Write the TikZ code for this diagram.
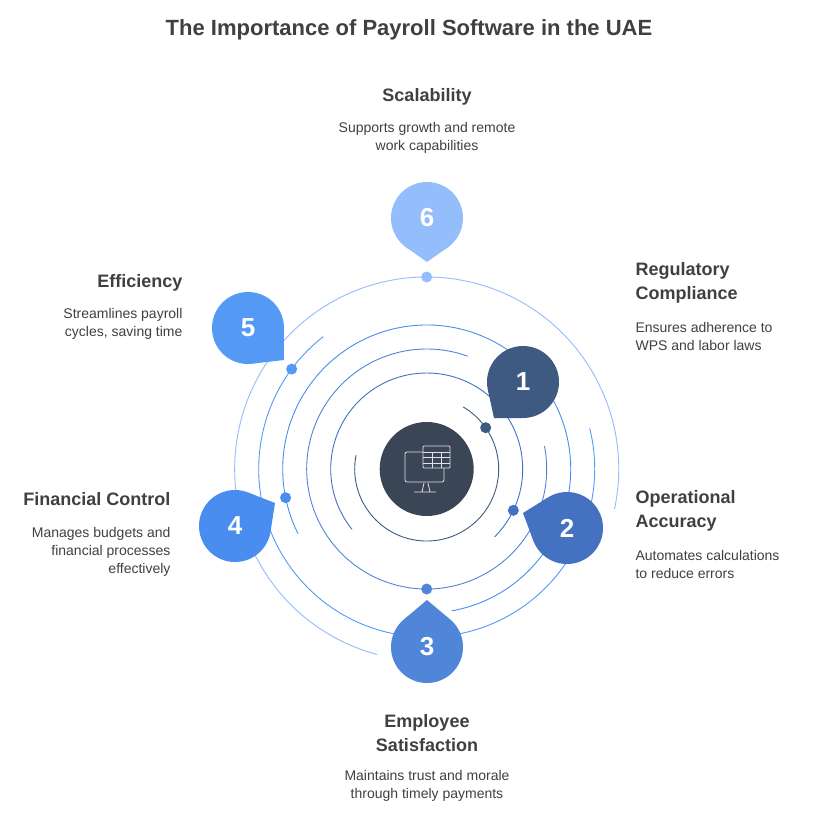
\documentclass[tikz,border=0pt]{standalone}
\usepackage{fontspec}
\setmainfont{Liberation Sans}
\usetikzlibrary{calc}
\definecolor{cA}{HTML}{3F5A80}
\definecolor{cB}{HTML}{4472C0}
\definecolor{cC}{HTML}{4F86D8}
\definecolor{cD}{HTML}{4A8DF0}
\definecolor{cE}{HTML}{5599F7}
\definecolor{cF}{HTML}{93BDFB}
\definecolor{hub}{HTML}{3A4556}
\definecolor{txt}{HTML}{404040}
\tikzset{
 ttl/.style={font=\bfseries\fontsize{22}{26}\selectfont,text=txt},
 hd/.style={font=\bfseries\fontsize{18}{24}\selectfont,text=txt,align=left},
 ds/.style={font=\fontsize{14}{18}\selectfont,text=txt},
 num/.style={font=\bfseries\fontsize{26}{26}\selectfont,text=white},
 ring/.style={line width=0.9pt},
}
\newcommand{\ringarc}[4]{\draw[ring,#4] ($(C)+(#2:#1pt)$) arc[start angle=#2,end angle=#3,radius=#1pt];}
\newcommand{\bubble}[5]{% name, center, tip, color, label
  \coordinate (#1c) at #2; \coordinate (#1t) at #3;
  \fill[#4] let \p1=($(#1t)-(#1c)$), \n1={atan2(\y1,\x1)} in
     ($(#1c)+(\n1+38:36pt)$) -- (#1t) -- ($(#1c)+(\n1-38:36pt)$) -- cycle;
  \fill[#4] (#1c) circle (36pt);
  \node[num] (#1n) at (#1c) {#5};}
\begin{document}
\begin{tikzpicture}[x=1pt,y=1pt]
\useasboundingbox (0,0) rectangle (817,-814);
\fill[white] (0,0) rectangle (817,-814);
\coordinate (C) at (426.7,-469);
\node[ttl] (title) at (409,-30) {The Importance of Payroll Software in the UAE};
% rings
\ringarc{72}{169}{419.5}{cA}
\ringarc{96}{-45}{219}{cB}
\ringarc{120}{70}{371}{cC}
\ringarc{144}{-80}{206.6}{cD}
\ringarc{168}{128}{374}{cE}
\ringarc{192}{-12}{255}{cF}
% hub
\fill[hub] (C) circle (47pt);
\begin{scope}[draw=white!85!hub,line width=0.8pt]
 \draw[rounded corners=2pt] (423,-452) -- (405,-452) -- (405,-482) -- (444,-482) -- (444,-468);
 \draw (424,-483) -- (422,-492) (428,-483) -- (430,-492) (414,-492) -- (436,-492);
 \draw[rounded corners=1pt] (423,-446) rectangle (450,-468);
 \draw (423,-452) -- (450,-452) (423,-457.5) -- (450,-457.5) (423,-463) -- (450,-463);
 \draw (432,-452) -- (432,-468) (441,-452) -- (441,-468);
\end{scope}
% bubbles and dots
\bubble{b1}{(523,-382)}{(494,-418)}{cA}{1}
\bubble{b2}{(567,-528)}{(523,-513)}{cB}{2}
\bubble{b3}{(427,-647)}{(427,-600)}{cC}{3}
\bubble{b4}{(235,-526)}{(275,-503)}{cD}{4}
\bubble{b5}{(248,-328)}{(284,-360)}{cE}{5}
\bubble{b6}{(427,-218)}{(427,-262)}{cF}{6}
\fill[cA] ($(C)+(35:72pt)$) circle (5.5pt);
\fill[cB] ($(C)+(-25.5:96pt)$) circle (5.5pt);
\fill[cC] ($(C)+(270:120pt)$) circle (5.5pt);
\fill[cD] ($(C)+(191.5:144pt)$) circle (5.5pt);
\fill[cE] ($(C)+(143.5:168pt)$) circle (5.5pt);
\fill[cF] ($(C)+(90:192pt)$) circle (5.5pt);
% texts
\node[hd] (h6) at (427,-97) {Scalability};
\node[ds,align=center] (d6) at (427,-138) {Supports growth and remote\\work capabilities};
\node[hd,anchor=west] (h1) at (632,-283) {Regulatory\\Compliance};
\node[ds,anchor=west,align=left] (d1) at (632,-336) {Ensures adherence to\\WPS and labor laws};
\node[hd,anchor=west] (h2) at (632,-511) {Operational\\Accuracy};
\node[ds,anchor=west,align=left] (d2) at (632,-564) {Automates calculations\\to reduce errors};
\node[hd,align=center] (h3) at (427,-733) {Employee\\Satisfaction};
\node[ds,align=center] (d3) at (427,-786) {Maintains trust and morale\\through timely payments};
\node[hd,anchor=east] (h4) at (174,-499) {Financial Control};
\node[ds,anchor=east,align=right] (d4) at (174,-552) {Manages budgets and\\financial processes\\effectively};
\node[hd,anchor=east] (h5) at (186,-283) {Efficiency};
\node[ds,anchor=east,align=right] (d5) at (186,-324) {Streamlines payroll\\cycles, saving time};
\end{tikzpicture}
\end{document}
